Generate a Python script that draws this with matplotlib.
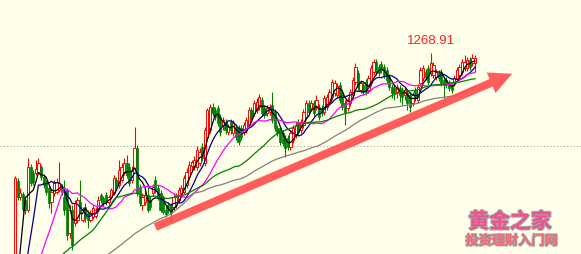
import numpy as np
import pandas as pd
import matplotlib
matplotlib.use("Agg")
import matplotlib.pyplot as plt
import matplotlib.patheffects as pe

# ---------------- data (prices) ----------------
opens = [1164.4, 1204.9, 1196.9, 1198.4, 1195.4,
         1190.4, 1211.9, 1208.9, 1208.9, 1209.4, 1211.9, 1206.9, 1204.4, 1201.4, 1194.4,
         1198.9, 1199.4, 1200.4, 1201.9, 1196.9, 1200.4, 1178.9, 1190.4, 1183.9, 1185.4,
         1194.4, 1185.4, 1191.9, 1188.9, 1185.4, 1186.9, 1187.4, 1190.4, 1197.9, 1196.4,
         1197.9, 1194.4,
         1196.9,
         1198.9, 1205.4, 1202.9, 1205.4, 1208.9, 1213.9, 1211.9, 1205.4, 1211.4, 1221.4,
         1201.9, 1192.9, 1194.4, 1197.9, 1195.4, 1198.9, 1205.4, 1201.4, 1198.9, 1196.9,
         1190.4,
         1192.9, 1192.9, 1191.9, 1192.9, 1195.4, 1198.9, 1199.4, 1202.9, 1206.9,
         1212.4,
         1211.9, 1211.9, 1213.9, 1221.9, 1213.9, 1226.9, 1230.4, 1241.9, 1240.4, 1241.4,
         1236.9, 1232.9, 1234.4, 1229.4, 1234.4, 1228.9, 1231.9, 1231.4, 1231.4, 1229.4,
         1230.4, 1232.9, 1240.4, 1238.9, 1240.4, 1241.9, 1245.4, 1241.4, 1238.9, 1239.4,
         1242.9, 1239.4, 1231.4, 1230.4, 1228.9, 1226.4, 1226.4, 1221.9, 1225.4, 1227.9,
         1234.4, 1230.4,
         1232.9, 1236.9, 1243.9, 1241.4, 1243.9, 1241.9, 1241.9, 1241.4,
         1239.4, 1241.9, 1244.4, 1246.9, 1248.9, 1247.9, 1252.9, 1249.4, 1243.9, 1241.4,
         1243.9, 1247.9, 1254.4, 1258.9, 1250.4,
         1252.9, 1254.4, 1250.4, 1253.9, 1259.4, 1264.4, 1261.9, 1263.4, 1261.9, 1260.4,
         1256.9, 1251.9, 1251.4, 1249.4, 1251.4, 1250.4,
         1247.9, 1248.9, 1247.9, 1243.9, 1250.4, 1245.4, 1253.9, 1256.4, 1259.4, 1261.4,
         1258.9, 1257.9, 1256.9, 1258.9, 1259.4, 1255.4, 1255.4, 1253.9, 1252.9, 1253.9,
         1256.4, 1257.9, 1259.4, 1261.4, 1261.4, 1265.4, 1263.9, 1263.9]

closes = [1206.4, 1196.9, 1198.9, 1190.9, 1190.4,
          1211.9, 1203.9, 1204.4, 1210.9, 1213.9, 1206.9, 1202.9, 1199.4, 1193.9, 1199.4,
          1203.9, 1204.4, 1203.9, 1199.4, 1190.4, 1177.9, 1190.4, 1172.9, 1193.9, 1195.4,
          1190.4, 1190.4, 1186.4, 1185.4, 1188.9, 1191.4, 1190.4, 1195.4, 1195.4, 1193.9,
          1194.4, 1196.9,
          1200.4,
          1206.4, 1202.9, 1210.4, 1211.9, 1213.9, 1207.9, 1203.9, 1210.4, 1221.4, 1198.9,
          1193.9, 1196.9, 1197.9, 1190.4, 1191.9, 1201.9, 1200.4, 1196.9, 1190.4, 1189.4,
          1188.4,
          1190.4, 1188.9, 1196.9, 1196.9, 1200.4, 1201.4, 1206.4, 1209.4, 1212.9,
          1214.4,
          1215.4, 1220.4, 1219.4, 1216.4, 1230.4, 1240.4, 1241.9, 1238.9, 1236.9, 1233.9,
          1229.4, 1235.4, 1230.4, 1231.9, 1230.4, 1233.9, 1226.9, 1224.4, 1226.9, 1232.9,
          1235.4, 1240.4, 1236.9, 1243.9, 1244.4, 1246.9, 1238.9, 1237.9, 1241.4, 1241.9,
          1235.4, 1231.4, 1228.9, 1224.4, 1223.9, 1221.4, 1221.9, 1228.9, 1231.4, 1232.9,
          1229.4, 1234.4,
          1239.4, 1243.9, 1239.4, 1243.9, 1238.9, 1245.4, 1236.9, 1238.9,
          1246.4, 1246.9, 1249.4, 1254.4, 1253.9, 1252.4, 1245.4, 1241.9, 1239.4, 1245.4,
          1249.4, 1255.4, 1261.9, 1251.9, 1253.9,
          1249.4, 1249.4, 1256.4, 1261.4, 1264.4, 1259.4, 1258.9, 1260.4, 1257.9, 1255.4,
          1251.9, 1248.9, 1248.9, 1251.9, 1247.9, 1246.9,
          1250.4, 1243.9, 1241.9, 1247.9, 1246.4, 1251.9, 1260.4, 1261.4, 1256.9, 1254.4,
          1263.9, 1262.9, 1259.4, 1256.4, 1253.9, 1252.9, 1252.9, 1251.4, 1250.4, 1256.4,
          1260.4, 1261.9, 1264.4, 1264.4, 1265.4, 1261.9, 1266.4, 1266.4]

highs = [1207.4, 1206.4, 1201.4, 1199.4, 1196.4,
         1216.4, 1213.4, 1210.4, 1215.4, 1216.4, 1212.9, 1208.4, 1205.4, 1202.9, 1200.9,
         1205.4, 1206.4, 1214.4, 1203.4, 1205.4, 1201.4, 1192.9, 1192.9, 1195.4, 1196.9,
         1205.4, 1191.9, 1193.9, 1190.4, 1190.4, 1192.9, 1191.9, 1197.4, 1198.9, 1197.4,
         1199.4, 1197.9,
         1201.4,
         1207.9, 1206.9, 1215.4, 1213.9, 1216.4, 1217.9, 1213.9, 1212.4, 1231.9, 1222.9,
         1203.4, 1198.9, 1200.4, 1202.9, 1197.4, 1203.4, 1207.4, 1202.9, 1200.4, 1197.9,
         1192.4,
         1194.4, 1193.9, 1198.9, 1198.9, 1201.9, 1202.9, 1207.9, 1211.4, 1214.9,
         1215.4,
         1217.4, 1222.4, 1221.4, 1223.9, 1231.9, 1241.4, 1243.4, 1243.9, 1241.9, 1242.9,
         1238.4, 1236.9, 1235.9, 1233.4, 1235.9, 1235.4, 1233.4, 1232.9, 1232.9, 1234.4,
         1236.9, 1241.9, 1241.9, 1245.4, 1246.4, 1248.4, 1246.9, 1242.9, 1242.9, 1243.4,
         1249.4, 1240.9, 1232.9, 1231.9, 1230.4, 1227.9, 1227.9, 1230.4, 1232.9, 1234.4,
         1235.9, 1235.9,
         1240.9, 1245.4, 1245.4, 1245.4, 1245.4, 1247.9, 1243.4, 1242.9,
         1247.9, 1248.4, 1250.9, 1255.9, 1255.4, 1253.9, 1254.4, 1250.9, 1245.4, 1246.9,
         1250.9, 1256.9, 1263.9, 1260.4, 1255.4,
         1254.4, 1255.9, 1257.9, 1262.9, 1265.9, 1265.9, 1263.4, 1264.9, 1263.4, 1261.9,
         1258.4, 1253.4, 1252.9, 1253.4, 1252.9, 1251.9,
         1251.9, 1250.4, 1249.4, 1249.4, 1251.9, 1253.4, 1261.9, 1262.9, 1260.9, 1262.9,
         1268.91, 1264.4, 1260.9, 1260.4, 1260.9, 1256.9, 1256.9, 1255.4, 1254.4, 1257.9,
         1261.9, 1263.4, 1265.9, 1267.9, 1266.9, 1266.9, 1268.4, 1267.9]

lows = [1162.9, 1195.4, 1195.4, 1189.4, 1188.4,
        1189.4, 1202.4, 1202.9, 1207.9, 1208.4, 1205.4, 1201.4, 1197.9, 1191.4, 1188.9,
        1197.4, 1198.4, 1199.4, 1197.9, 1187.9, 1175.4, 1176.4, 1170.4, 1182.4, 1183.9,
        1188.9, 1184.4, 1184.4, 1181.4, 1184.4, 1185.9, 1186.4, 1189.4, 1193.9, 1192.4,
        1192.9, 1193.4,
        1195.9,
        1197.9, 1201.4, 1201.4, 1204.4, 1207.9, 1206.4, 1202.4, 1203.9, 1210.4, 1197.4,
        1192.4, 1190.4, 1192.9, 1189.4, 1190.4, 1197.4, 1198.9, 1195.4, 1189.4, 1188.4,
        1186.9,
        1188.9, 1184.4, 1190.4, 1191.4, 1193.9, 1197.4, 1198.4, 1201.4, 1205.4,
        1210.4,
        1210.4, 1210.4, 1212.4, 1214.9, 1212.4, 1225.4, 1228.9, 1237.4, 1235.4, 1232.4,
        1227.4, 1230.4, 1228.4, 1227.9, 1228.4, 1227.4, 1225.4, 1222.9, 1225.4, 1227.9,
        1228.9, 1231.9, 1235.4, 1237.4, 1238.9, 1240.4, 1237.4, 1236.4, 1237.4, 1237.9,
        1233.9, 1229.9, 1227.4, 1222.9, 1222.4, 1216.9, 1220.4, 1220.4, 1223.9, 1226.4,
        1227.9, 1228.9,
        1231.4, 1235.4, 1237.9, 1239.9, 1237.4, 1240.4, 1235.4, 1237.4,
        1237.9, 1240.4, 1242.9, 1245.4, 1247.4, 1246.4, 1243.9, 1240.4, 1232.9, 1239.9,
        1242.4, 1246.4, 1252.9, 1250.4, 1248.9,
        1247.9, 1247.9, 1248.9, 1252.4, 1257.9, 1257.9, 1257.4, 1258.9, 1256.4, 1253.9,
        1250.4, 1246.4, 1245.4, 1246.4, 1244.4, 1242.9,
        1245.4, 1240.4, 1239.4, 1242.4, 1244.9, 1243.9, 1252.4, 1254.9, 1255.4, 1252.9,
        1257.4, 1256.4, 1255.4, 1254.9, 1252.4, 1246.4, 1251.4, 1249.9, 1248.9, 1252.4,
        1254.9, 1256.4, 1257.9, 1259.9, 1259.9, 1260.4, 1262.4, 1259.4]

# closes before the visible window (below the visible price range); feed the moving averages
pre_closes = [1138.2, 1137.6, 1139.1, 1138.4, 1137.9, 1138.8, 1139.3, 1137.5, 1138.1, 1138.9,
              1137.8, 1138.5, 1139.0, 1137.7, 1138.3, 1138.6, 1137.4, 1138.9, 1139.2, 1138.0,
              1137.6, 1138.4, 1138.7, 1137.9, 1139.1, 1138.2, 1137.5, 1138.6, 1138.9, 1137.8,
              1138.3, 1139.0, 1138.1, 1137.7, 1138.5, 1138.8, 1137.6, 1138.2, 1139.2, 1138.4,
              1137.9, 1138.6, 1138.0, 1137.5, 1138.7, 1139.1, 1138.3, 1137.8, 1138.5, 1138.9,
              1138.1,
              1147.6, 1148.4, 1147.9, 1148.8, 1148.1, 1147.5, 1148.6, 1148.2, 1147.9,
              1124.6, 1123.8, 1124.2, 1123.5, 1124.9, 1124.1, 1123.7, 1124.4, 1124.0]

ma_periods = [5, 10, 20, 40, 70]
ma_colors = ["#000000", "#000080", "#ff00ff", "#008000", "#808080"]
ref_level = 1222.4
peak_text = "1268.91"
wm_title = "黄金之家"
wm_sub = "投资理财入门网"

assert len(opens) == len(closes) == len(highs) == len(lows)

# ---------------- figure ----------------
bg = "#ffffea"
fig = plt.figure(figsize=(5.81, 2.54), dpi=100)
fig.patch.set_facecolor(bg)
ax = fig.add_axes([0, 0, 1, 1])
ax.set_facecolor(bg)
for s in ax.spines.values():
    s.set_visible(False)
ax.set_xticks([])
ax.set_yticks([])

n = len(closes)
x = np.arange(n)
o = np.array(opens); c = np.array(closes); h = np.array(highs); l = np.array(lows)
up = c >= o

W = 581.0
step = 460.0 / (n - 1)
ax.set_xlim(-15.0 / step, (W - 15.0) / step)
ax.set_ylim(1168.4, 1295.4)

ax.axhline(ref_level, color="#a0a0a0", lw=0.8, ls=(0, (1, 2)), zorder=0)

# wicks
ax.vlines(x[up], l[up], h[up], color="#ff0000", lw=0.8, zorder=1)
ax.vlines(x[~up], l[~up], h[~up], color="#008000", lw=0.8, zorder=1)
# bodies (up candles hollow red, down candles solid green)
bot = np.minimum(o, c); hgt = np.maximum(np.abs(c - o), 0.3)
ax.bar(x[up], hgt[up], bottom=bot[up], width=0.9, facecolor=bg,
       edgecolor="#ff0000", linewidth=0.7, zorder=2)
ax.bar(x[~up], hgt[~up], bottom=bot[~up], width=0.8, facecolor="#008000",
       edgecolor="#008000", linewidth=0.5, zorder=2)

# moving averages
full = pd.Series(pre_closes + closes)
for p, col in zip(ma_periods, ma_colors):
    ma = full.rolling(p).mean().to_numpy()[-n:]
    ax.plot(x, ma, color=col, lw=0.9, zorder=3)

# peak label
ip = int(np.argmax(h))
ax.annotate(peak_text, (x[ip], h[ip]), xytext=(0, 4), textcoords="offset points",
            ha="center", va="bottom", color="#ff2020", fontsize=9.5,
            family="Liberation Sans")

# trend arrow
ax.annotate("", xy=(0.886, 0.714), xytext=(0.263, 0.102), xycoords="axes fraction",
            arrowprops=dict(arrowstyle="simple,head_width=1.6,head_length=1.65,tail_width=0.58",
                            mutation_scale=10, color="#ff4a4a", alpha=0.9, lw=0),
            zorder=4)

# watermark
ax.text(0.878, 0.128, wm_title, transform=ax.transAxes, ha="center", va="center",
        fontsize=15, fontweight="bold", color="#f0508c", family="Noto Sans CJK SC",
        path_effects=[pe.withStroke(linewidth=1.6, foreground="#a8a8a8")], zorder=5)
ax.text(0.881, 0.052, wm_sub, transform=ax.transAxes, ha="center", va="center",
        fontsize=9.5, fontweight="bold", color="#f06a78", family="Noto Sans CJK SC",
        path_effects=[pe.withStroke(linewidth=1.3, foreground="#a8a8a8")], zorder=5)

fig.savefig("out.png", dpi=100, facecolor=bg)
